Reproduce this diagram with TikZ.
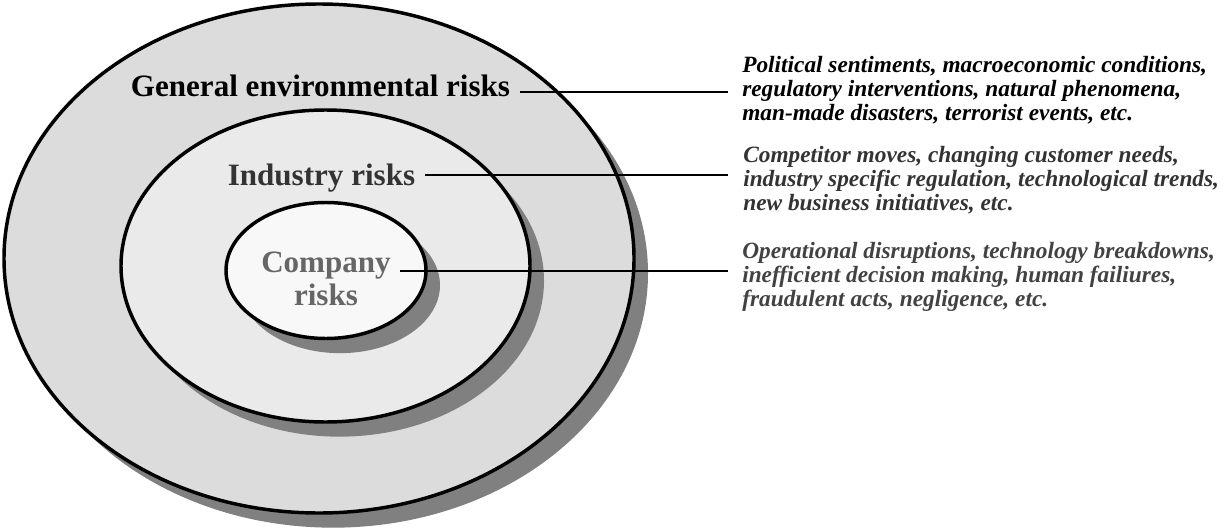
\documentclass[tikz,border=0pt]{standalone}
\usepackage{fontspec}
\setmainfont{Liberation Serif}
\usetikzlibrary{shapes.geometric,shadows}
\definecolor{outerfill}{HTML}{DCDCDC}
\definecolor{midfill}{HTML}{EAEAEA}
\definecolor{innerfill}{HTML}{F8F8F8}
\definecolor{shadowgray}{HTML}{808080}
\definecolor{indtext}{HTML}{333333}
\definecolor{comptext}{HTML}{666666}
\definecolor{desctwo}{HTML}{333333}
\definecolor{descthree}{HTML}{424242}
\begin{document}
\begin{tikzpicture}[x=0.75pt,y=-0.75pt,
  ring/.style={ellipse, draw=black, line width=2.6pt, inner sep=0pt, outer sep=0pt,
    drop shadow={shadow xshift=10.5pt, shadow yshift=-11pt, fill=shadowgray, opacity=1}},
  lab/.style={font=\fontsize{23.3pt}{24.75pt}\selectfont\bfseries, inner xsep=7pt, inner ysep=0pt, align=center},
  desc/.style={font=\fontsize{17.5pt}{18pt}\selectfont\bfseries\itshape, inner sep=0pt, align=left, anchor=north west},
  conn/.style={draw=black, line width=1pt}]
\useasboundingbox (0,0) rectangle (1220,528);

% rings
\node[ring, fill=outerfill, minimum width=472.5pt, minimum height=381.75pt] (outer) at (319,258.5) {};
\node[ring, fill=midfill, minimum width=306.75pt, minimum height=234pt] (middle) at (325.5,266) {};
\node[ring, fill=innerfill, minimum width=150pt, minimum height=102pt] (inner) at (326,270.5) {};

% labels
\node[lab, anchor=base] (gen) at (320.5,97) {General environmental risks};
\node[lab, anchor=base, text=indtext] (ind) at (321.5,185) {Industry risks};
\node[lab, anchor=north, text=comptext] (comp) at (326,252) {Company\\risks};

% connector ends
\coordinate (c1) at (728,92);
\coordinate (c2) at (728,175);
\coordinate (c3) at (728,271);
\draw[conn] (gen.east |- c1) -- (c1);
\draw[conn] (ind.east |- c2) -- (c2);
\draw[conn] (comp.east |- c3) -- (c3);

% descriptions
\node[desc] (d1) at (742,56) {Political sentiments, macroeconomic conditions,\\regulatory interventions, natural phenomena,\\man-made disasters, terrorist events, etc.};
\node[desc, text=desctwo] (d2) at (743,146) {Competitor moves, changing customer needs,\\industry specific regulation, technological trends,\\new business initiatives, etc.};
\node[desc, text=descthree] (d3) at (742,242) {Operational disruptions, technology breakdowns,\\inefficient decision making, human failiures,\\fraudulent acts, negligence, etc.};
\end{tikzpicture}
\end{document}
